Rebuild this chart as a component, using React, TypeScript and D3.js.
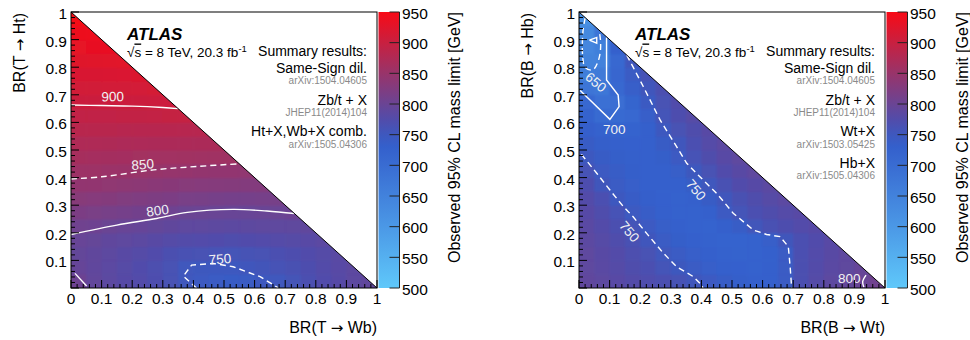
import React from "react";
import * as d3 from "d3";

// ---------- data ----------
const axisTicks = [0, 0.1, 0.2, 0.3, 0.4, 0.5, 0.6, 0.7, 0.8, 0.9, 1];
const axisTickLabels = ["0", "0.1", "0.2", "0.3", "0.4", "0.5", "0.6", "0.7", "0.8", "0.9", "1"];
const colorbarTicks = [500, 550, 600, 650, 700, 750, 800, 850, 900, 950];
const zDomain = [500, 950];
const binSize = 0.05;

const paletteStops = [500, 550, 600, 650, 700, 730, 750, 775, 800, 850, 900, 950];
const paletteColors = [
  "#5fc8fa", "#55b0f0", "#4b98e6", "#4282dc", "#396cd2", "#3460cc",
  "#3e58be", "#524caa", "#6a4494", "#98346a", "#c82040", "#f80a16",
];

// Left panel: T quark, rows from BR(Ht)=0 upward, cells from BR(Wb)=0 rightward
const tRows: number[][] = [
  [803, 792, 785, 780, 775, 770, 762, 751, 746, 741, 740, 743, 748, 751, 759, 767, 774, 780, 786, 791],
  [796, 790, 784, 779, 774, 769, 762, 751, 750, 748, 749, 752, 756, 760, 765, 770, 776, 781, 786],
  [794, 791, 786, 782, 778, 774, 767, 764, 762, 760, 759, 761, 763, 766, 770, 774, 778, 783],
  [797, 795, 790, 787, 785, 782, 778, 776, 775, 774, 773, 774, 775, 777, 779, 781, 784],
  [806, 804, 801, 798, 796, 794, 791, 788, 787, 786, 785, 786, 787, 788, 789, 791],
  [819, 817, 814, 812, 809, 807, 804, 801, 800, 799, 798, 798, 799, 800, 802],
  [832, 830, 828, 825, 823, 821, 819, 816, 815, 813, 812, 812, 813, 814],
  [844, 843, 841, 839, 837, 835, 833, 831, 830, 829, 828, 827, 827],
  [855, 855, 853, 852, 851, 849, 848, 847, 845, 844, 843, 842],
  [865, 864, 863, 862, 861, 860, 860, 859, 858, 858, 857],
  [874, 874, 873, 872, 872, 871, 871, 871, 870, 870],
  [883, 883, 883, 882, 882, 882, 882, 882, 882],
  [893, 893, 893, 894, 894, 895, 896, 897],
  [902, 902, 902, 903, 903, 904, 905],
  [909, 909, 910, 910, 911, 912],
  [917, 917, 918, 919, 920],
  [924, 925, 926, 927],
  [932, 933, 934],
  [939, 940],
  [946],
];

// Right panel: B quark
const bRows: number[][] = [
  [790, 786, 781, 776, 771, 766, 761, 754, 745, 738, 733, 730, 730, 742, 768, 778, 786, 793, 799, 806],
  [788, 783, 778, 772, 766, 758, 750, 742, 735, 730, 727, 726, 728, 741, 767, 776, 783, 789, 796],
  [787, 782, 776, 769, 762, 751, 742, 735, 729, 725, 723, 724, 728, 742, 766, 775, 782, 788],
  [785, 779, 772, 764, 753, 742, 734, 728, 724, 722, 722, 726, 735, 754, 766, 774, 781],
  [783, 776, 768, 757, 745, 736, 729, 724, 722, 728, 738, 755, 764, 770, 775, 780],
  [780, 772, 760, 746, 737, 730, 725, 724, 730, 745, 757, 766, 772, 777, 781],
  [776, 766, 749, 739, 732, 727, 726, 730, 740, 752, 765, 773, 779, 784],
  [770, 754, 742, 735, 730, 728, 730, 738, 751, 764, 774, 780, 785],
  [760, 745, 738, 733, 730, 730, 736, 750, 763, 774, 782, 788],
  [749, 740, 734, 731, 730, 734, 745, 760, 772, 781, 787],
  [740, 733, 729, 727, 730, 740, 753, 766, 777, 784],
  [732, 725, 720, 722, 730, 749, 762, 773, 781],
  [722, 704, 704, 712, 735, 758, 770, 779],
  [710, 690, 696, 718, 744, 762, 774],
  [680, 675, 712, 735, 752, 768],
  [660, 668, 715, 742, 760],
  [648, 651, 712, 752],
  [640, 655, 730],
  [635, 680],
  [620],
];

// contour lines (BR_x, BR_y)
const t900: [number, number][] = [[0, 0.663], [0.1, 0.661], [0.2, 0.659], [0.3, 0.654], [0.35, 0.65]];
const t850: [number, number][] = [[0, 0.395], [0.1, 0.403], [0.27, 0.428], [0.42, 0.441], [0.55, 0.45]];
const t800: [number, number][] = [[0, 0.194], [0.15, 0.228], [0.28, 0.252], [0.38, 0.274], [0.53, 0.285], [0.64, 0.279], [0.73, 0.27]];
const t800corner: [number, number][] = [[0.013, 0.053], [0.051, 0.007]];
const t750: [number, number][] = [[0.41, 0], [0.367, 0.043], [0.394, 0.083], [0.465, 0.089], [0.53, 0.077], [0.618, 0.041], [0.678, 0]];

const b650: [number, number][] = [[0.02, 0.978], [0.013, 0.93], [0.012, 0.84], [0.02, 0.8], [0.045, 0.79], [0.062, 0.82], [0.07, 0.86], [0.07, 0.9], [0.066, 0.932]];
const b650inner: [number, number][] = [[0.034, 0.898], [0.058, 0.908], [0.058, 0.887], [0.034, 0.898]];
const b700: [number, number][] = [[0.09, 0.908], [0.09, 0.754], [0.128, 0.699], [0.131, 0.657], [0.101, 0.611], [0.014, 0.705], [0.004, 0.716]];
const b750upper: [number, number][] = [[0.156, 0.844], [0.177, 0.8], [0.21, 0.73], [0.265, 0.609], [0.319, 0.512], [0.352, 0.452], [0.395, 0.403], [0.45, 0.343], [0.504, 0.271], [0.57, 0.21], [0.613, 0.194], [0.657, 0.186], [0.684, 0.15], [0.69, 0.077], [0.695, 0]];
const b750lower: [number, number][] = [[0.008, 0.484], [0.058, 0.416], [0.101, 0.355], [0.145, 0.295], [0.177, 0.258], [0.221, 0.198], [0.276, 0.126], [0.319, 0.077], [0.374, 0.041], [0.401, 0.011], [0.405, 0]];
const b800: [number, number][] = [[0.938, 0.047], [0.927, 0.023], [0.931, 0.003]];

const tNotes = ["Same-Sign dil.", "arXiv:1504.04605", "Zb/t + X", "JHEP11(2014)104", "Ht+X,Wb+X comb.", "arXiv:1505.04306"];
const bNotes = ["Same-Sign dil.", "arXiv:1504.04605", "Zb/t + X", "JHEP11(2014)104", "Wt+X", "arXiv:1503.05425", "Hb+X", "arXiv:1505.04306"];

type Pt = [number, number];
type Contour = { pts: Pt[]; dashed: boolean; smooth: boolean };
type CLabel = { text: string; x: number; y: number; angle: number };

const tContours: Contour[] = [
  { pts: t900, dashed: false, smooth: true },
  { pts: t850, dashed: true, smooth: true },
  { pts: t800, dashed: false, smooth: true },
  { pts: t800corner, dashed: false, smooth: false },
  { pts: t750, dashed: true, smooth: false },
];
const tLabels: CLabel[] = [
  { text: "900", x: 0.136, y: 0.693, angle: -1 },
  { text: "850", x: 0.234, y: 0.447, angle: -4 },
  { text: "800", x: 0.283, y: 0.28, angle: -8 },
  { text: "750", x: 0.487, y: 0.104, angle: -4 },
];
const bContours: Contour[] = [
  { pts: b650, dashed: true, smooth: true },
  { pts: b650inner, dashed: false, smooth: false },
  { pts: b700, dashed: false, smooth: false },
  { pts: b750upper, dashed: true, smooth: false },
  { pts: b750lower, dashed: true, smooth: false },
  { pts: b800, dashed: false, smooth: true },
];
const bLabels: CLabel[] = [
  { text: "650", x: 0.055, y: 0.745, angle: 40 },
  { text: "700", x: 0.115, y: 0.575, angle: 0 },
  { text: "750", x: 0.382, y: 0.355, angle: 50 },
  { text: "750", x: 0.164, y: 0.204, angle: 50 },
  { text: "800", x: 0.883, y: 0.035, angle: 0 },
];

// ---------- drawing ----------
const FONT = "'Liberation Sans', Arial, Helvetica, sans-serif";
const ARROW_FONT = "'DejaVu Sans', sans-serif";
const TOP = 12;
const BOTTOM = 288;
const PW = 306;

const color = d3
  .scaleLinear<string>()
  .domain(paletteStops)
  .range(paletteColors)
  .interpolate(d3.interpolateRgb)
  .clamp(true);

function Title({ parts }: { parts: string[] }) {
  // parts: [before, arrow, after]
  return (
    <>
      <tspan>{parts[0]}</tspan>
      <tspan fontFamily={ARROW_FONT} fontSize={15}>{parts[1]}</tspan>
      <tspan>{parts[2]}</tspan>
    </>
  );
}

function Panel(props: {
  id: string;
  left: number;
  rows: number[][];
  contours: Contour[];
  labels: CLabel[];
  xTitle: string[];
  yTitle: string[];
  notes: string[];
}) {
  const { id, left, rows, contours, labels, xTitle, yTitle, notes } = props;
  const x = d3.scaleLinear().domain([0, 1]).range([left, left + PW]);
  const y = d3.scaleLinear().domain([0, 1]).range([BOTTOM, TOP]);
  const z = d3.scaleLinear().domain(zDomain).range([BOTTOM, TOP]);
  const cbLeft = left + PW + 1.5;
  const cbW = 21;
  const cbRight = cbLeft + cbW;

  const cells: { i: number; j: number; v: number }[] = [];
  rows.forEach((row, j) => row.forEach((v, i) => cells.push({ i, j, v })));
  const rects = (k: string) =>
    cells.map((c) => {
      const x0 = x(c.i * binSize);
      const x1 = x((c.i + 1) * binSize);
      const y0 = y((c.j + 1) * binSize);
      const y1 = y(c.j * binSize);
      return (
        <rect key={k + c.i + "_" + c.j} x={x0} y={y0} width={x1 - x0 + 0.5} height={y1 - y0 + 0.5} fill={color(c.v)} />
      );
    });

  const lineSmooth = d3.line<Pt>().x((d) => x(d[0])).y((d) => y(d[1])).curve(d3.curveCatmullRom.alpha(0.5));
  const lineStraight = d3.line<Pt>().x((d) => x(d[0])).y((d) => y(d[1]));

  const minor = x.ticks(50);
  const major = axisTicks;
  const upperTri = `M${x(0)},${y(1)} L${x(1)},${y(1)} L${x(1)},${y(0)} Z`;

  return (
    <g>
      <defs>
        <clipPath id={"clip" + id}>
          <rect x={x(0)} y={y(1)} width={PW} height={BOTTOM - TOP} />
        </clipPath>
        <filter id={"blur" + id} x="-5%" y="-5%" width="110%" height="110%">
          <feGaussianBlur stdDeviation="0.9" />
        </filter>
        <linearGradient id={"grad" + id} x1="0" y1="1" x2="0" y2="0">
          {paletteStops.map((v) => (
            <stop key={v} offset={(v - zDomain[0]) / (zDomain[1] - zDomain[0])} stopColor={color(v)} />
          ))}
        </linearGradient>
      </defs>
      <g clipPath={`url(#clip${id})`}>
        <g shapeRendering="crispEdges">{rects("a")}</g>
        <g filter={`url(#blur${id})`}>{rects("b")}</g>
        {contours.map((c, k) => (
          <path
            key={k}
            d={(c.smooth ? lineSmooth : lineStraight)(c.pts) || ""}
            fill="none"
            stroke="#ffffff"
            strokeWidth={1.4}
            strokeDasharray={c.dashed ? "6 4" : undefined}
          />
        ))}
        {labels.map((l, k) => (
          <text
            key={k}
            x={x(l.x)}
            y={y(l.y)}
            transform={`rotate(${l.angle},${x(l.x)},${y(l.y)})`}
            textAnchor="middle"
            dominantBaseline="central"
            fill="#f2f2f2"
            fontSize={13.5}
            fontFamily={FONT}
          >
            {l.text}
          </text>
        ))}
        <path d={upperTri} fill="#ffffff" />
      </g>
      {/* diagonal */}
      <line x1={x(0)} y1={y(1)} x2={x(1)} y2={y(0)} stroke="#000" strokeWidth={1} />
      {/* frame */}
      <rect x={x(0)} y={y(1)} width={PW} height={BOTTOM - TOP} fill="none" stroke="#000" strokeWidth={1} />
      {/* ticks */}
      {minor.map((t) => {
        const isMajor = major.some((m) => Math.abs(m - t) < 1e-6);
        const len = isMajor ? 8 : 4;
        return (
          <g key={"t" + t}>
            <line x1={x(t)} x2={x(t)} y1={BOTTOM} y2={BOTTOM - len} stroke="#000" strokeWidth={1} />
            <line x1={x(0)} x2={x(0) + len} y1={y(t)} y2={y(t)} stroke="#000" strokeWidth={1} />
          </g>
        );
      })}
      {/* tick labels */}
      {axisTicks.map((t, k) => (
        <text key={"xl" + k} x={x(t)} y={BOTTOM + 16} textAnchor="middle" fontSize={15.5} fontFamily={FONT} fill="#000">
          {axisTickLabels[k]}
        </text>
      ))}
      {axisTicks.map((t, k) =>
        k === 0 ? null : (
          <text
            key={"yl" + k}
            x={x(0) - 4}
            y={y(t) + 1.5}
            textAnchor="end"
            dominantBaseline="central"
            fontSize={15.5}
            fontFamily={FONT}
            fill="#000"
          >
            {axisTickLabels[k]}
          </text>
        )
      )}
      {/* axis titles */}
      <text x={x(1)} y={333} textAnchor="end" fontSize={16} fontFamily={FONT} fill="#000">
        <Title parts={xTitle} />
      </text>
      <text
        x={left - 46}
        y={TOP + 1}
        transform={`rotate(-90,${left - 46},${TOP + 1})`}
        textAnchor="end"
        fontSize={16}
        fontFamily={FONT}
        fill="#000"
      >
        <Title parts={yTitle} />
      </text>
      {/* colour bar */}
      <rect x={cbLeft} y={TOP} width={cbW} height={BOTTOM - TOP} fill={`url(#grad${id})`} />
      <line x1={cbRight} x2={cbRight} y1={TOP} y2={BOTTOM} stroke="#222" strokeWidth={1} />
      {colorbarTicks.map((v) => (
        <g key={"cb" + v}>
          <line x1={cbRight - 10} x2={cbRight} y1={z(v)} y2={z(v)} stroke="#222" strokeWidth={1} />
          <text x={cbRight + 2.5} y={z(v) + 1} dominantBaseline="central" fontSize={15.5} fontFamily={FONT} fill="#000">
            {v}
          </text>
        </g>
      ))}
      <text
        x={cbRight + 60.5}
        y={TOP}
        transform={`rotate(-90,${cbRight + 60.5},${TOP})`}
        textAnchor="end"
        fontSize={16}
        fontFamily={FONT}
        fill="#000"
      >
        Observed 95% CL mass limit [GeV]
      </text>
      {/* annotations */}
      <text x={left + 56} y={39.5} fontSize={17} fontWeight="bold" fontStyle="italic" fontFamily={FONT} fill="#000">
        ATLAS
      </text>
      <text x={left + 56} y={56.5} fontSize={13.5} fontFamily={FONT} fill="#000">
        <tspan>√</tspan>
        <tspan style={{ textDecoration: "overline" }}>s</tspan>
        <tspan> = 8 TeV, 20.3 fb</tspan>
        <tspan dy={-5} fontSize={9.5}>-1</tspan>
      </text>
      <text x={left + 296} y={56} textAnchor="end" fontSize={14} fontFamily={FONT} fill="#000">
        Summary results:
      </text>
      {notes.map((n, k) => {
        const pair = Math.floor(k / 2);
        const isRef = k % 2 === 1;
        const yy = 73 + pair * 31.7 + (isRef ? 11.3 : 0);
        return (
          <text
            key={"n" + k}
            x={left + 296}
            y={yy}
            textAnchor="end"
            fontSize={isRef ? 10 : 14}
            fontFamily={FONT}
            fill={isRef ? "#8a8a8a" : "#000"}
          >
            {n}
          </text>
        );
      })}
    </g>
  );
}

export default function App() {
  return (
    <svg
      width={970}
      height={340}
      viewBox="0 0 970 340"
      style={{ position: "absolute", left: 0, top: 0, background: "#fff" }}
    >
      <rect x={0} y={0} width={970} height={340} fill="#fff" />
      <Panel
        id="L"
        left={71}
        rows={tRows}
        contours={tContours}
        labels={tLabels}
        xTitle={["BR(T ", "→", " Wb)"]}
        yTitle={["BR(T ", "→", " Ht)"]}
        notes={tNotes}
      />
      <Panel
        id="R"
        left={579}
        rows={bRows}
        contours={bContours}
        labels={bLabels}
        xTitle={["BR(B ", "→", " Wt)"]}
        yTitle={["BR(B ", "→", " Hb)"]}
        notes={bNotes}
      />
    </svg>
  );
}
